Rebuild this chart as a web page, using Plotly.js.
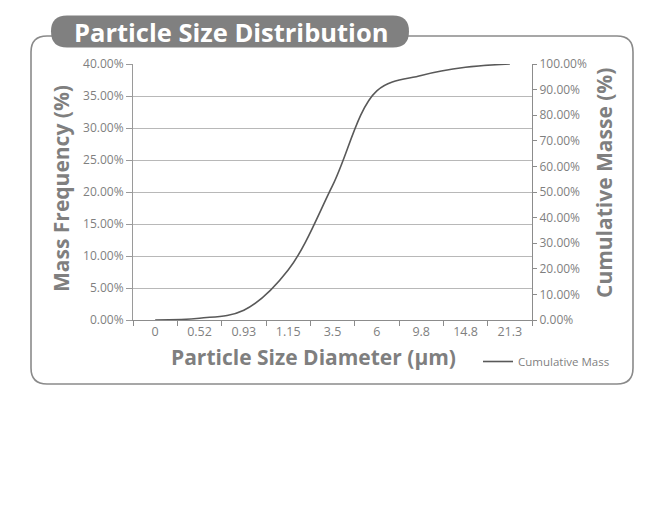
<!DOCTYPE html>
<html>
<head>
<meta charset="utf-8">
<script src="https://cdn.plot.ly/plotly-3.0.1.min.js"></script>
<style>
  html, body { margin: 0; padding: 0; background: #ffffff; }
  #chart { width: 658px; height: 516px; }
</style>
</head>
<body>
<div id="chart"></div>
<script>
// ---- data ----
const categories = ['0', '0.52', '0.93', '1.15', '3.5', '6', '9.8', '14.8', '21.3'];
const cumulativeMass = [0, 0.7, 3.8, 19.5, 52.5, 89.5, 95.5, 98.7, 100];
const seriesName = 'Cumulative Mass';
const chartTitle = 'Particle Size Distribution';
const xTitle = 'Particle Size Diameter (µm)';
const yLeftTitle = 'Mass Frequency (%)';
const yRightTitle = 'Cumulative Masse (%)';

// ---- layout helpers (pixel -> paper) ----
const W = 658, H = 516;
const L = 133, R = 532, T = 64, B = 320;
const px = x => (x - L) / (R - L);
const py = y => (B - y) / (B - T);

function roundRect(x0, y0, x1, y1, r) {
  const p = [
    'M', px(x0 + r), py(y0),
    'L', px(x1 - r), py(y0),
    'Q', px(x1), py(y0), px(x1), py(y0 + r),
    'L', px(x1), py(y1 - r),
    'Q', px(x1), py(y1), px(x1 - r), py(y1),
    'L', px(x0 + r), py(y1),
    'Q', px(x0), py(y1), px(x0), py(y1 - r),
    'L', px(x0), py(y0 + r),
    'Q', px(x0), py(y0), px(x0 + r), py(y0),
    'Z'
  ];
  let s = '';
  for (let i = 0; i < p.length; i++) {
    const v = p[i];
    if (typeof v === 'string') s += v + ' ';
    else { s += v.toFixed(5) + (typeof p[i + 1] === 'number' ? ',' : ' '); }
  }
  return s;
}

const grey = '#7f7f7f';
const font = '"Open Sans", "Noto Sans", sans-serif';

// base subplot holder for the left (Mass Frequency) axis – carries no marks
const leftAxisHolder = {
  x: [], y: [], type: 'scatter', mode: 'lines', yaxis: 'y',
  showlegend: false, hoverinfo: 'skip'
};

const trace = {
  x: categories,
  y: cumulativeMass,
  type: 'scatter',
  mode: 'lines',
  name: seriesName,
  yaxis: 'y2',
  line: { color: '#595959', width: 1.6, shape: 'spline', smoothing: 1 },
  hoverinfo: 'x+y'
};

const layout = {
  width: W, height: H,
  margin: { l: L, r: W - R, t: T, b: H - B, pad: 0 },
  paper_bgcolor: '#ffffff',
  plot_bgcolor: '#ffffff',
  font: { family: font, color: grey, size: 11 },
  showlegend: true,
  legend: {
    orientation: 'h',
    x: px(478), y: py(347), xanchor: 'left', yanchor: 'top',
    font: { family: font, size: 11.5, color: grey },
    bgcolor: 'rgba(0,0,0,0)'
  },
  xaxis: {
    type: 'category',
    categoryorder: 'array',
    categoryarray: categories,
    range: [-0.5, categories.length - 0.5],
    showgrid: false,
    zeroline: false,
    showline: true,
    linecolor: '#8c8c8c',
    linewidth: 1.2,
    ticks: 'outside',
    tickson: 'boundaries',
    ticklen: 5,
    tickcolor: '#8c8c8c',
    tickfont: { family: font, size: 12.5, color: grey },
    fixedrange: true
  },
  yaxis: {
    range: [0, 40],
    dtick: 5,
    tick0: 0,
    ticksuffix: '%',
    tickformat: '.2f',
    showgrid: true,
    gridcolor: '#b8b8b8',
    gridwidth: 1,
    zeroline: false,
    showline: true,
    linecolor: '#9a9a9a',
    linewidth: 1,
    ticks: 'outside',
    ticklen: 6,
    tickcolor: '#9a9a9a',
    tickfont: { family: font, size: 12, color: grey },
    fixedrange: true
  },
  yaxis2: {
    overlaying: 'y',
    side: 'right',
    range: [0, 100],
    dtick: 10,
    tick0: 0,
    ticksuffix: '%',
    tickformat: '.2f',
    showgrid: false,
    zeroline: false,
    showline: true,
    linecolor: '#8c8c8c',
    linewidth: 1.2,
    ticks: 'outside',
    ticklen: 4,
    tickcolor: '#8c8c8c',
    tickfont: { family: font, size: 12, color: grey },
    fixedrange: true
  },
  shapes: [
    {
      type: 'path', xref: 'paper', yref: 'paper', layer: 'below',
      path: roundRect(31, 36, 633, 384, 16),
      line: { color: '#8a8a8a', width: 1.6 },
      fillcolor: 'rgba(0,0,0,0)'
    },
    {
      type: 'path', xref: 'paper', yref: 'paper', layer: 'above',
      path: roundRect(51, 15.5, 409, 47.5, 16),
      line: { color: '#808080', width: 0 },
      fillcolor: '#808080'
    }
  ],
  annotations: [
    {
      text: '<b>' + chartTitle + '</b>', xref: 'paper', yref: 'paper',
      x: px(231), y: py(32), xanchor: 'center', yanchor: 'middle', showarrow: false,
      font: { family: font, size: 25.5, color: '#ffffff' }
    },
    {
      text: '<b>' + xTitle + '</b>', xref: 'paper', yref: 'paper',
      x: px(313), y: py(357), xanchor: 'center', yanchor: 'middle', showarrow: false,
      font: { family: font, size: 21, color: grey }
    },
    {
      text: '<b>' + yLeftTitle + '</b>', xref: 'paper', yref: 'paper', textangle: -90,
      x: px(61), y: py(189), xanchor: 'center', yanchor: 'middle', showarrow: false,
      font: { family: font, size: 21, color: grey }
    },
    {
      text: '<b>' + yRightTitle + '</b>', xref: 'paper', yref: 'paper', textangle: -90,
      x: px(604), y: py(183), xanchor: 'center', yanchor: 'middle', showarrow: false,
      font: { family: font, size: 21, color: grey }
    }
  ]
};

Plotly.newPlot('chart', [leftAxisHolder, trace], layout, { displayModeBar: false });
</script>
</body>
</html>
